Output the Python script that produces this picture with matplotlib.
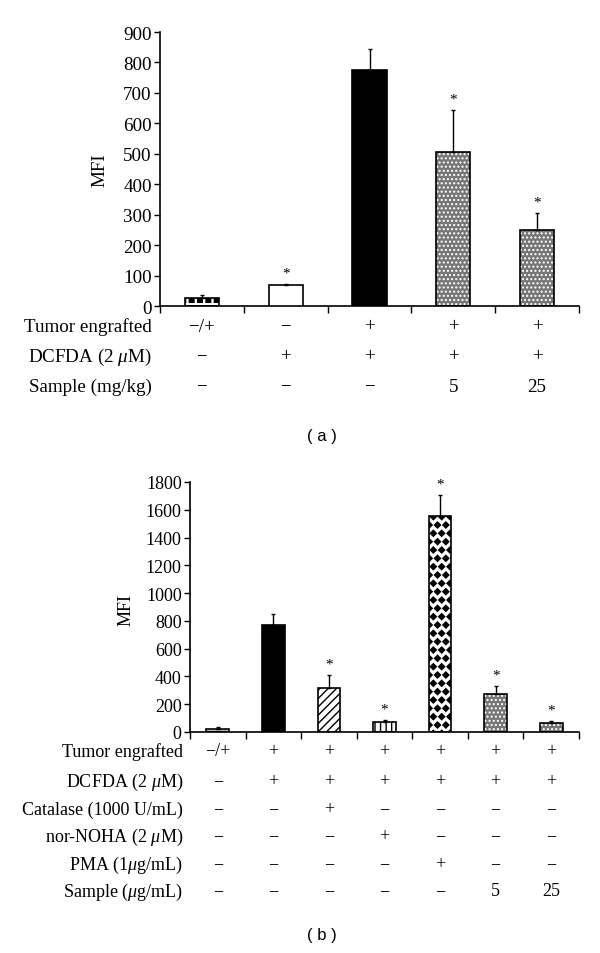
import matplotlib
matplotlib.use("Agg")
import matplotlib.pyplot as plt
import matplotlib.transforms as mtransforms
import matplotlib.hatch as mhatch
from matplotlib.path import Path
import numpy as np

plt.rcParams['font.family'] = ['Liberation Serif', 'DejaVu Serif']
plt.rcParams['mathtext.fontset'] = 'custom'
plt.rcParams['mathtext.rm'] = 'Liberation Serif'
plt.rcParams['mathtext.it'] = 'Liberation Serif:italic'
plt.rcParams['hatch.linewidth'] = 1.0


# custom filled-shape hatches: 'O' -> filled diamonds, 'o' -> filled squares (checker)
class _FilledDiamonds(mhatch.Shapes):
    size = 0.36
    filled = True

    def __init__(self, hatch, density):
        self.num_rows = hatch.count('O') * density
        self.shape_vertices = np.array([[0, 1], [1, 0], [0, -1], [-1, 0], [0, 1]], float)
        self.shape_codes = np.array([Path.MOVETO, Path.LINETO, Path.LINETO,
                                     Path.LINETO, Path.CLOSEPOLY])
        super().__init__(hatch, density)


class _FilledSquares(mhatch.Shapes):
    size = 0.28
    filled = True

    def __init__(self, hatch, density):
        self.num_rows = hatch.count('o') * density
        self.shape_vertices = np.array([[-1, -1], [1, -1], [1, 1], [-1, 1], [-1, -1]], float)
        self.shape_codes = np.array([Path.MOVETO, Path.LINETO, Path.LINETO,
                                     Path.LINETO, Path.CLOSEPOLY])
        super().__init__(hatch, density)


mhatch._hatch_types = [t for t in mhatch._hatch_types
                       if t not in (mhatch.LargeCircles, mhatch.SmallCircles)]
mhatch._hatch_types += [_FilledDiamonds, _FilledSquares]

# ---------------- data: panel (a) ----------------
values_a = [27, 70, 774, 507, 251]
err_a = [8, 3, 69, 137, 55]
sig_a = [False, True, False, True, True]
row_labels_a = ["Tumor engrafted", "DCFDA (2 $\\mu$M)", "Sample (mg/kg)"]
rows_a = [
    ["\u2212/+", "\u2212", "+", "+", "+"],
    ["\u2212", "+", "+", "+", "+"],
    ["\u2212", "\u2212", "\u2212", "5", "25"],
]
yticks_a = [0, 100, 200, 300, 400, 500, 600, 700, 800, 900]

# ---------------- data: panel (b) ----------------
values_b = [25, 770, 319, 70, 1555, 274, 65]
err_b = [8, 80, 94, 16, 151, 59, 16]
sig_b = [False, False, True, True, True, True, True]
row_labels_b = ["Tumor engrafted", "DCFDA (2 $\\mu$M)", "Catalase (1000 U/mL)",
                "nor-NOHA (2 $\\mu$M)", "PMA (1$\\mu$g/mL)", "Sample ($\\mu$g/mL)"]
rows_b = [
    ["\u2212/+", "+", "+", "+", "+", "+", "+"],
    ["\u2212", "+", "+", "+", "+", "+", "+"],
    ["\u2212", "\u2212", "+", "\u2212", "\u2212", "\u2212", "\u2212"],
    ["\u2212", "\u2212", "\u2212", "+", "\u2212", "\u2212", "\u2212"],
    ["\u2212", "\u2212", "\u2212", "\u2212", "+", "\u2212", "\u2212"],
    ["\u2212", "\u2212", "\u2212", "\u2212", "\u2212", "5", "25"],
]
yticks_b = [0, 200, 400, 600, 800, 1000, 1200, 1400, 1600, 1800]

# styles: (facecolor, hatch, hatchcolor)
styles_a = [("white", "oo", "black"), ("white", "", "black"), ("black", "", "black"),
            ("#767676", "....", "white"), ("#767676", "....", "white")]
styles_b = [("#b0b0b0", "....", "white"), ("black", "", "black"), ("white", "////", "black"),
            ("white", "|||", "black"), ("white", "OO", "black"),
            ("#767676", "....", "white"), ("#767676", "....", "white")]

W, H = 600, 954
fig = plt.figure(figsize=(6.0, 9.54), dpi=100)


def panel(rect, values, errs, sigs, styles, yticks, row_labels, rows, row_y, label_right,
          ylabel_x, ylabel_y, letter, letter_y, FS):
    ax = fig.add_axes(rect)
    n = len(values)
    x = np.arange(n)
    for i in range(n):
        fc, hatch, hc = styles[i]
        if hatch:
            ax.bar(x[i], values[i], width=0.41, facecolor=fc, edgecolor=hc, hatch=hatch,
                   linewidth=0, zorder=2)
            ax.bar(x[i], values[i], width=0.41, facecolor="none", edgecolor="black",
                   linewidth=1.2, zorder=3)
        else:
            ax.bar(x[i], values[i], width=0.41, facecolor=fc, edgecolor="black",
                   linewidth=1.2, zorder=3)
    ax.errorbar(x, values, yerr=[np.zeros(n), errs], fmt="none", ecolor="black",
                elinewidth=1.0, capsize=1.5, capthick=1.0, zorder=4)
    for i in range(n):
        if sigs[i]:
            ax.annotate("*", (x[i], values[i] + errs[i]), xytext=(0, 3),
                        textcoords="offset points", ha="center", va="bottom",
                        fontsize=11)
    ax.set_xlim(-0.5, n - 0.5)
    ax.set_ylim(0, yticks[-1])
    ax.set_yticks(yticks)
    ax.set_xticks(np.arange(n + 1) - 0.5)
    ax.set_xticklabels([])
    ax.tick_params(axis="x", direction="out", length=5, width=1.0)
    ax.tick_params(axis="y", direction="out", length=4, width=1.0, labelsize=FS, pad=2)
    for s in ("top", "right"):
        ax.spines[s].set_visible(False)
    for s in ("left", "bottom"):
        ax.spines[s].set_linewidth(1.2)
    fig.text(ylabel_x / W, 1 - ylabel_y / H, "MFI", rotation=90, ha="center",
             va="center", fontsize=FS)
    trans = mtransforms.blended_transform_factory(ax.transData, fig.transFigure)
    for r, (lab, vals) in enumerate(zip(row_labels, rows)):
        yy = 1 - row_y[r] / H
        fig.text(label_right / W, yy, lab, ha="right", va="center", fontsize=FS)
        for i, v in enumerate(vals):
            ax.text(x[i], yy, v, transform=trans, ha="center", va="center",
                    fontsize=FS, clip_on=False)
    fig.text(322 / W, 1 - letter_y / H, letter, ha="center", va="center",
             fontsize=12, family=["Liberation Sans", "DejaVu Sans"])
    return ax


panel([160 / W, 1 - 307 / H, 419 / W, 274 / H], values_a, err_a, sig_a, styles_a,
      yticks_a, row_labels_a, rows_a, [327, 357, 387], 152, 100, 170, "( a )", 437, 13.7)

panel([190 / W, 1 - 733 / H, 389 / W, 250 / H], values_b, err_b, sig_b, styles_b,
      yticks_b, row_labels_b, rows_b, [752, 782, 810, 837, 865, 892], 183, 126, 610,
      "( b )", 936, 13)

fig.savefig("out.png", dpi=100)
